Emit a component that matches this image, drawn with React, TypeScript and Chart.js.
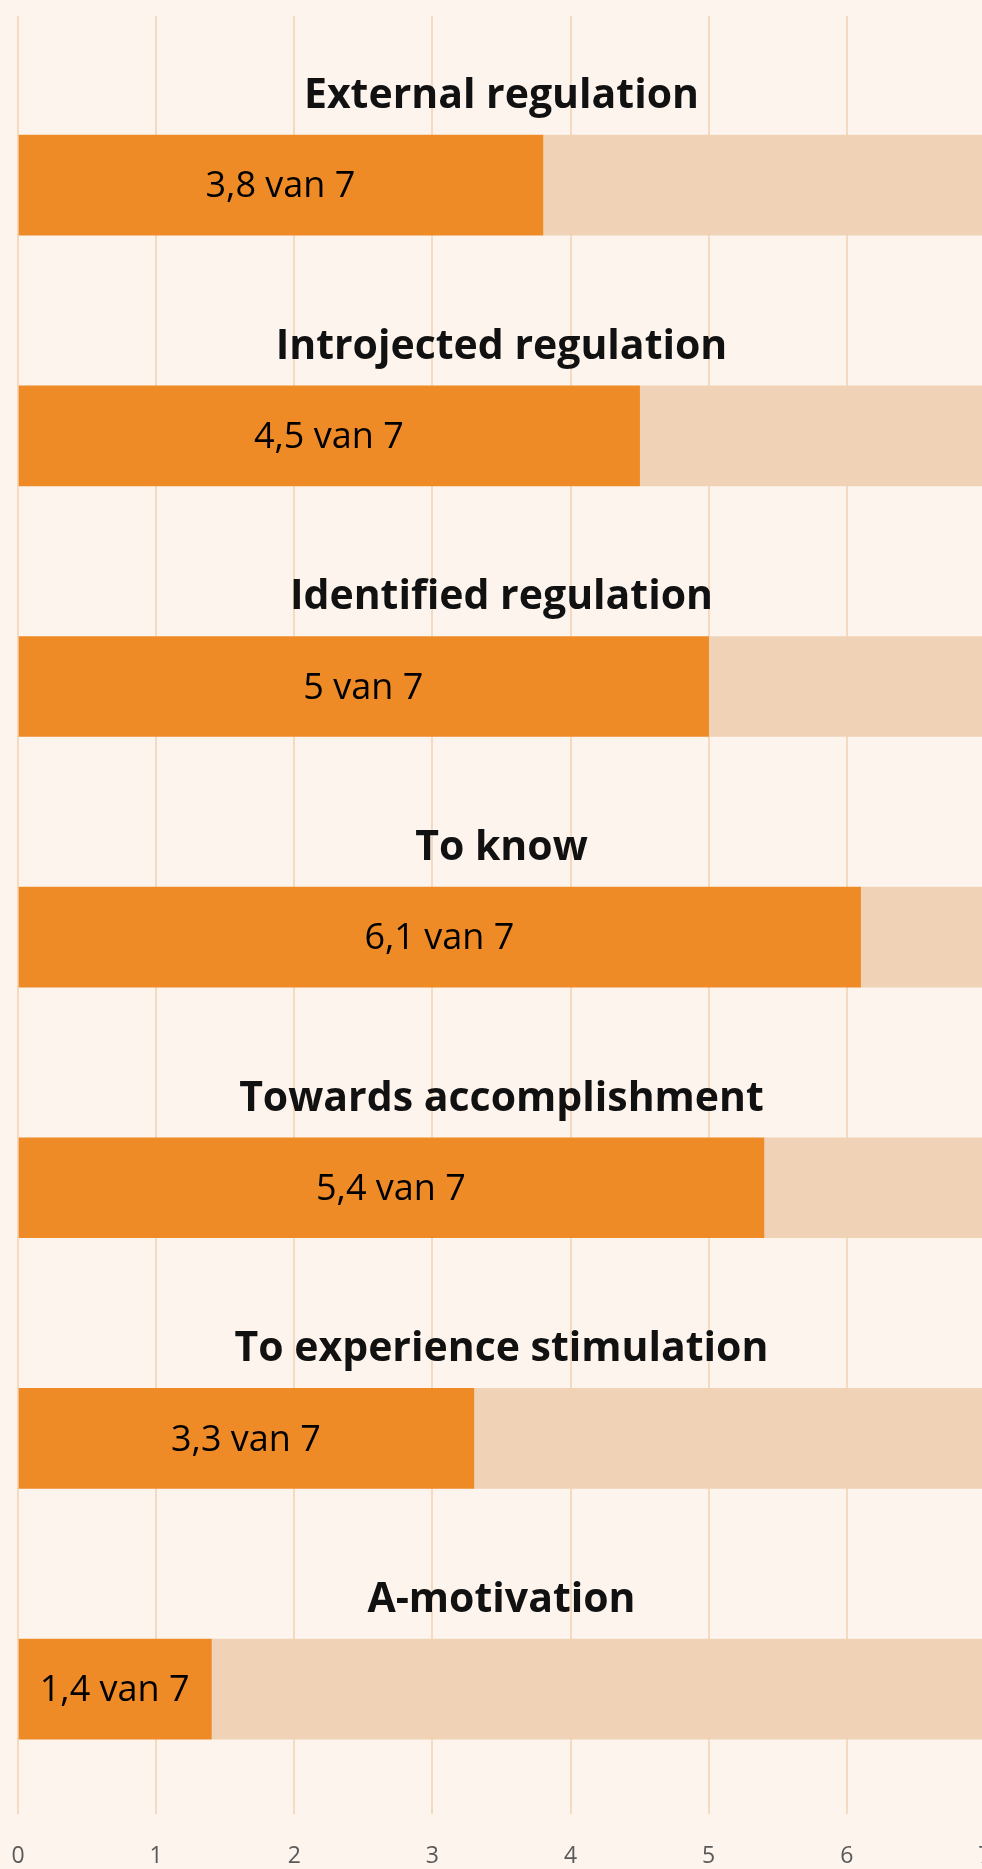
import React, { useEffect, useRef } from "react";
import { Chart, registerables } from "chart.js";

Chart.register(...registerables);

const categories: string[] = [
  "External regulation",
  "Introjected regulation",
  "Identified regulation",
  "To know",
  "Towards accomplishment",
  "To experience stimulation",
  "A-motivation",
];
const scores: number[] = [3.8, 4.5, 5, 6.1, 5.4, 3.3, 1.4];
const maxScore = 7;
const tickValues: number[] = [0, 1, 2, 3, 4, 5, 6, 7];

const BG = "#FDF4EE";
const ORANGE = "#EE8B27";
const TRACK = "#F0D2B6";
const GRID = "#F3DAC0";
const FONT = "'Open Sans', 'Noto Sans', sans-serif";

const labelPlugin = {
  id: "catLabels",
  afterDatasetsDraw(chart: any) {
    const { ctx, scales } = chart;
    const xs = scales.x;
    const ys = scales.y;
    ctx.save();
    // category titles above bars
    ctx.fillStyle = "#111111";
    ctx.textAlign = "center";
    ctx.textBaseline = "alphabetic";
    ctx.font = `bold 41px ${FONT}`;
    categories.forEach((c, i) => {
      const x = xs.getPixelForValue(maxScore / 2);
      const y = ys.getPixelForValue(i - 0.308);
      ctx.fillText(c, x, y);
    });
    // value labels inside bars
    ctx.font = `normal 36px ${FONT}`;
    ctx.textBaseline = "middle";
    ctx.fillStyle = "#000000";
    scores.forEach((v, i) => {
      const x = xs.getPixelForValue(v / 2);
      const y = ys.getPixelForValue(i);
      const txt = `${String(v).replace(".", ",")} van ${maxScore}`;
      ctx.fillText(txt, x, y + 2);
    });
    ctx.restore();
  },
};

export default function App() {
  const ref = useRef<HTMLCanvasElement | null>(null);
  useEffect(() => {
    document.documentElement.style.overflow = "hidden";
    document.body.style.margin = "0";
    document.body.style.overflow = "visible";
    document.body.style.background = BG;
    document.documentElement.style.background = BG;
    if (!ref.current) return;
    const chart = new Chart(ref.current, {
      type: "bar",
      data: {
        datasets: [
          {
            label: "score",
            data: scores.map((v, i) => ({ x: v, y: i })),
            backgroundColor: ORANGE,
            borderWidth: 0,
            barThickness: 100,
            stack: "s",
          },
          {
            label: "rest",
            data: scores.map((v, i) => ({ x: maxScore - v, y: i })),
            backgroundColor: TRACK,
            borderWidth: 0,
            barThickness: 100,
            stack: "s",
          },
        ],
      },
      options: {
        indexAxis: "y",
        responsive: false,
        animation: false,
        layout: { padding: { left: 18, right: 9.5, top: 16, bottom: 0 } },
        plugins: {
          legend: { display: false },
          tooltip: { enabled: false },
        },
        scales: {
          x: {
            type: "linear",
            stacked: true,
            min: 0,
            max: maxScore,
            afterBuildTicks: (axis: any) => {
              axis.ticks = tickValues.map((v) => ({ value: v }));
            },
            grid: {
              color: GRID,
              lineWidth: 2,
              drawTicks: true,
              tickLength: 25,
              tickColor: "rgba(0,0,0,0)",
            },
            border: { display: false },
            ticks: {
              padding: 3.5,
              color: "#595959",
              font: { family: FONT, size: 23 },
            },
          },
          y: {
            type: "linear",
            stacked: true,
            reverse: true,
            offset: false,
            min: -0.675,
            max: 6.5,
            display: false,
          },
        },
      },
      plugins: [labelPlugin],
    });
    return () => chart.destroy();
  }, []);
  return (
    <div style={{ width: 982, height: 1869, overflow: "hidden", position: "relative" }}>
      <canvas
        ref={ref}
        width={995}
        height={1874}
        style={{ display: "block", position: "absolute", left: 0, top: 0 }}
      />
    </div>
  );
}
